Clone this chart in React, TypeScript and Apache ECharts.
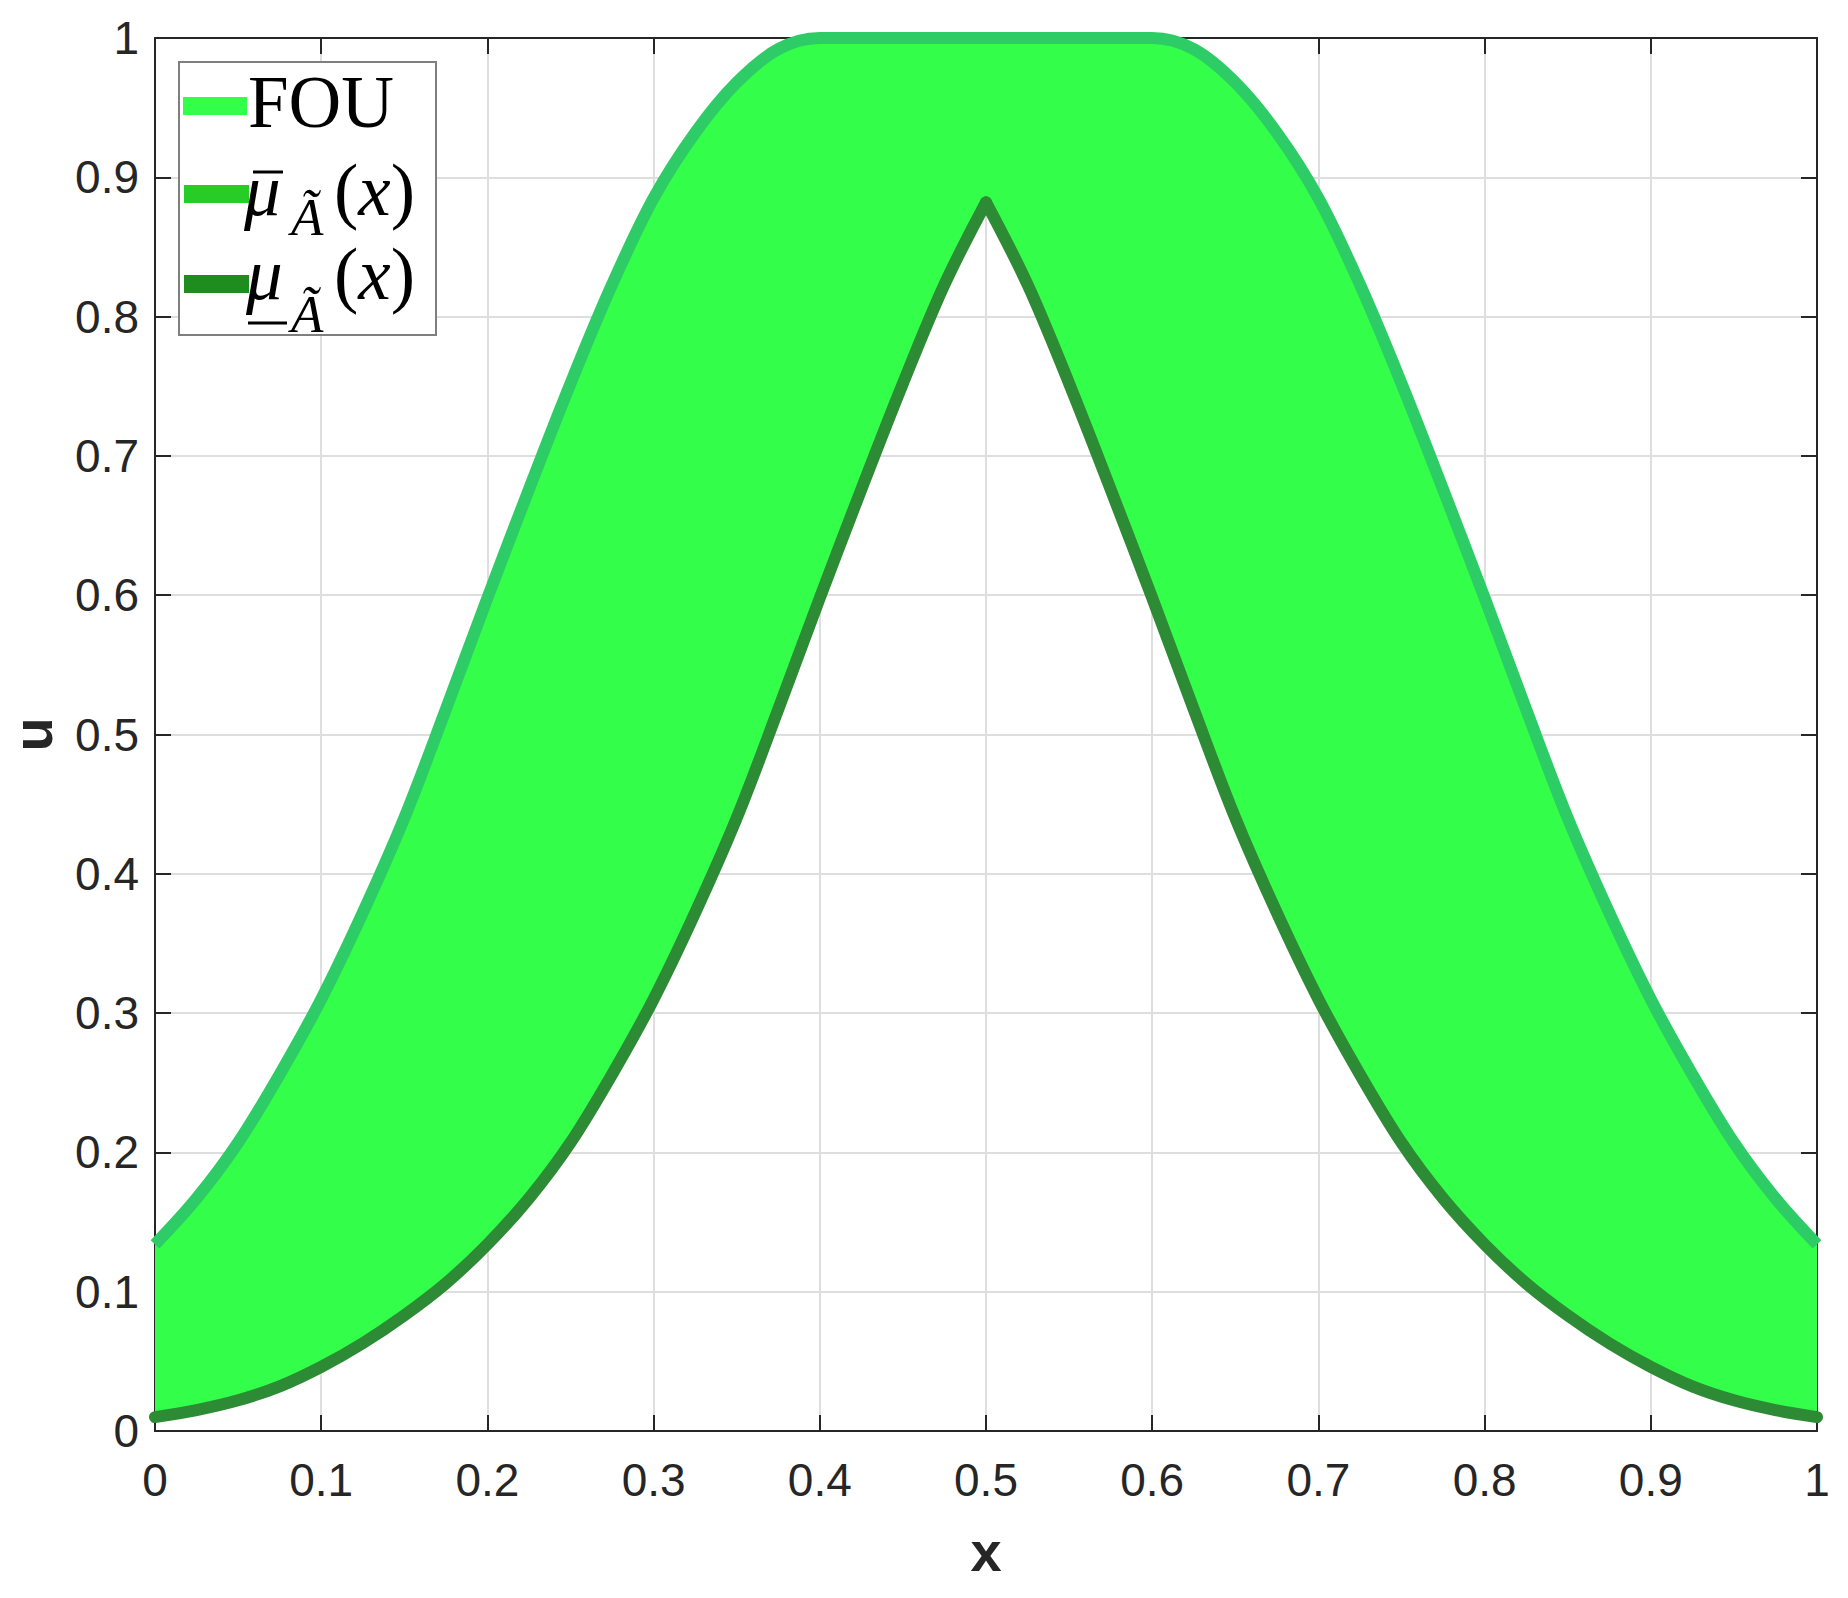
import React, { useEffect, useRef } from "react";
import * as echarts from "echarts";

// x positions of the sampled curves
const xValues = [
  0, 0.025, 0.05, 0.075, 0.1, 0.125, 0.15, 0.175, 0.2, 0.225, 0.25, 0.275, 0.3, 0.325, 0.35, 0.375,
  0.4, 0.425, 0.45, 0.475, 0.5, 0.525, 0.55, 0.575, 0.6, 0.625, 0.65, 0.675, 0.7, 0.725, 0.75, 0.775,
  0.8, 0.825, 0.85, 0.875, 0.9, 0.925, 0.95, 0.975, 1,
];

// upper membership function
const upperMF = [
  0.134, 0.167, 0.207, 0.256, 0.31, 0.372, 0.44, 0.518, 0.598, 0.676, 0.752, 0.823, 0.885, 0.932, 0.968, 0.992,
  1, 1, 1, 1, 1, 1, 1, 1, 1,
  0.992, 0.968, 0.932, 0.885, 0.823, 0.752, 0.676, 0.598, 0.518, 0.44, 0.372, 0.31, 0.256, 0.207, 0.167, 0.134,
];

// lower membership function
const lowerMF = [
  0.01, 0.015, 0.022, 0.032, 0.046, 0.063, 0.083, 0.106, 0.134, 0.167, 0.207, 0.256, 0.31, 0.372, 0.44, 0.518,
  0.598, 0.676, 0.752, 0.823, 0.882, 0.823, 0.752, 0.676, 0.598, 0.518, 0.44, 0.372, 0.31, 0.256, 0.207, 0.167,
  0.134, 0.106, 0.083, 0.063, 0.046, 0.032, 0.022, 0.015, 0.01,
];

const xTickLabels = ["0", "0.1", "0.2", "0.3", "0.4", "0.5", "0.6", "0.7", "0.8", "0.9", "1"];
const yTickLabels = ["0", "0.1", "0.2", "0.3", "0.4", "0.5", "0.6", "0.7", "0.8", "0.9", "1"];

const seriesNames = ["FOU", "upper MF", "lower MF"];

const FOU_COLOR = "#33ff4a";
const UPPER_COLOR = "#2ecc66";
const LOWER_COLOR = "#2e8b35";
const LEG_FOU = "#33ff4a";
const LEG_UPPER = "#27cc27";
const LEG_LOWER = "#1e8c1e";
const AXIS_COLOR = "#262626";
const SANS = "'Liberation Sans', Arial, sans-serif";
const SERIF = "'Liberation Serif', 'Times New Roman', serif";

function pairs(from: number, to: number, ys: number[]) {
  const out: number[][] = [];
  for (let i = from; i <= to; i++) out.push([xValues[i], ys[i]]);
  return out;
}

function buildOption() {
  const axisLineStyle = { show: true, onZero: false, lineStyle: { color: AXIS_COLOR, width: 2 } };
  const tickStyle = { show: true, inside: true, length: 16, lineStyle: { color: AXIS_COLOR, width: 2 } };
  const gridLine = { show: true, lineStyle: { color: "#dedede", width: 2 } };
  const labelStyle = { fontFamily: SANS, fontSize: 46, color: AXIS_COLOR };
  const nameStyle = { fontFamily: SANS, fontSize: 56, fontWeight: "bold" as const, color: AXIS_COLOR };

  const serifRich = {
    n: { fontFamily: SERIF, fontSize: 73, color: "#000" },
    i: { fontFamily: SERIF, fontSize: 73, fontStyle: "italic", color: "#000" },
  };

  const legendGraphic: any[] = [
    {
      type: "rect",
      z: 100,
      shape: { x: 179, y: 62, width: 257, height: 273 },
      style: { fill: "#ffffff", stroke: "#7f7f7f", lineWidth: 2 },
    },
    { type: "rect", z: 101, shape: { x: 183, y: 97, width: 64, height: 18 }, style: { fill: LEG_FOU } },
    { type: "rect", z: 101, shape: { x: 184, y: 185, width: 65, height: 18 }, style: { fill: LEG_UPPER } },
    { type: "rect", z: 101, shape: { x: 184, y: 275, width: 65, height: 18 }, style: { fill: LEG_LOWER } },
    {
      type: "text", z: 101, x: 248, y: 102,
      style: { text: seriesNames[0], font: `73px ${SERIF}`, fill: "#000", align: "left", verticalAlign: "middle" },
    },
    // row 2: upper MF
    {
      type: "text", z: 101, x: 244, y: 190,
      style: { text: "μ", font: `italic 73px ${SERIF}`, fill: "#000", align: "left", verticalAlign: "middle" },
    },
    { type: "line", z: 101, shape: { x1: 253, y1: 172, x2: 283, y2: 172 }, style: { stroke: "#000", lineWidth: 3 } },
    {
      type: "text", z: 101, x: 291, y: 217,
      style: { text: "Ã", font: `italic 53px ${SERIF}`, fill: "#000", align: "left", verticalAlign: "middle" },
    },
    {
      type: "text", z: 101, x: 334, y: 190,
      style: { text: "{n|(}{i|x}{n|)}", rich: serifRich, align: "left", verticalAlign: "middle" },
    },
    // row 3: lower MF
    {
      type: "text", z: 101, x: 246, y: 274,
      style: { text: "μ", font: `italic 73px ${SERIF}`, fill: "#000", align: "left", verticalAlign: "middle" },
    },
    { type: "line", z: 101, shape: { x1: 248, y1: 323, x2: 287, y2: 323 }, style: { stroke: "#000", lineWidth: 3 } },
    {
      type: "text", z: 101, x: 291, y: 314,
      style: { text: "Ã", font: `italic 53px ${SERIF}`, fill: "#000", align: "left", verticalAlign: "middle" },
    },
    {
      type: "text", z: 101, x: 334, y: 274,
      style: { text: "{n|(}{i|x}{n|)}", rich: serifRich, align: "left", verticalAlign: "middle" },
    },
  ];

  const lineBase = {
    type: "line",
    xAxisIndex: 0,
    yAxisIndex: 0,
    symbol: "none",
    showSymbol: false,
    smooth: 0.35,
    silent: true,
  };

  const peak = Math.floor(xValues.length / 2);

  return {
    animation: false,
    backgroundColor: "#ffffff",
    grid: { left: 155, top: 38, width: 1662, height: 1393, containLabel: false, outerBoundsMode: "none" },
    xAxis: [
      {
        type: "value", min: 0, max: 1, interval: 0.1, position: "bottom",
        name: "x", nameLocation: "middle", nameGap: 92, nameTextStyle: nameStyle,
        axisLine: axisLineStyle, axisTick: tickStyle, splitLine: gridLine,
        axisLabel: { ...labelStyle, margin: 26, formatter: (v: number) => xTickLabels[Math.round(v * 10)] },
      },
      {
        type: "value", min: 0, max: 1, interval: 0.1, position: "top",
        axisLine: axisLineStyle, axisTick: tickStyle, splitLine: { show: false }, axisLabel: { show: false },
      },
    ],
    yAxis: [
      {
        type: "value", min: 0, max: 1, interval: 0.1, position: "left",
        name: "u", nameLocation: "middle", nameGap: 95, nameTextStyle: nameStyle,
        axisLine: axisLineStyle, axisTick: tickStyle, splitLine: gridLine,
        axisLabel: { ...labelStyle, margin: 16, formatter: (v: number) => yTickLabels[Math.round(v * 10)] },
      },
      {
        type: "value", min: 0, max: 1, interval: 0.1, position: "right",
        axisLine: axisLineStyle, axisTick: tickStyle, splitLine: { show: false }, axisLabel: { show: false },
      },
    ],
    series: [
      {
        type: "custom",
        name: seriesNames[0],
        xAxisIndex: 0,
        yAxisIndex: 0,
        silent: true,
        z: 1,
        itemStyle: { color: FOU_COLOR },
        data: [[0.5, 0.5]],
        renderItem: (_params: any, api: any) => {
          const pts: number[][] = [];
          for (let i = 0; i < xValues.length; i++) pts.push(api.coord([xValues[i], upperMF[i]]));
          for (let i = xValues.length - 1; i >= 0; i--) pts.push(api.coord([xValues[i], lowerMF[i]]));
          return { type: "polygon", shape: { points: pts }, style: { fill: FOU_COLOR } };
        },
      },
      {
        ...lineBase,
        name: seriesNames[1],
        z: 3,
        clip: false,
        lineStyle: { color: UPPER_COLOR, width: 12, join: "round", cap: "butt" },
        itemStyle: { color: UPPER_COLOR },
        data: pairs(0, xValues.length - 1, upperMF),
      },
      {
        ...lineBase,
        name: seriesNames[2],
        z: 4,
        clip: true,
        lineStyle: { color: LOWER_COLOR, width: 12, join: "round", cap: "round" },
        itemStyle: { color: LOWER_COLOR },
        data: pairs(0, peak, lowerMF),
      },
      {
        ...lineBase,
        name: seriesNames[2],
        z: 4,
        clip: true,
        lineStyle: { color: LOWER_COLOR, width: 12, join: "round", cap: "round" },
        itemStyle: { color: LOWER_COLOR },
        data: pairs(peak, xValues.length - 1, lowerMF),
      },
    ],
    graphic: legendGraphic,
  };
}

export default function App() {
  const ref = useRef<HTMLDivElement>(null);
  useEffect(() => {
    if (!ref.current) return;
    const chart = echarts.init(ref.current, null, { renderer: "svg" });
    chart.setOption(buildOption() as any);
    return () => chart.dispose();
  }, []);
  return (
    <div
      ref={ref}
      style={{ position: "fixed", left: 0, top: 0, width: 1848, height: 1598, background: "#ffffff" }}
    />
  );
}
